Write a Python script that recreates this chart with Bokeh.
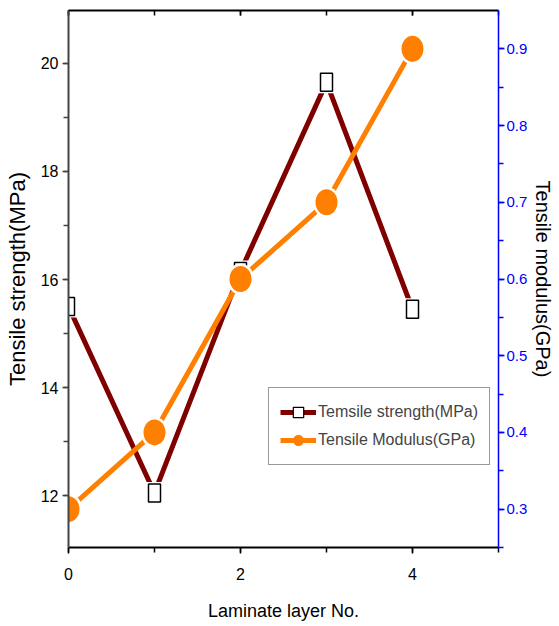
from bokeh.plotting import figure
from bokeh.models import (LinearAxis, Range1d, SingleIntervalTicker, Legend,
                          LegendItem, ColumnDataSource, CustomJSTickFormatter)
from bokeh.embed import file_html
from bokeh.resources import INLINE

# Laminate layer count vs. mechanical properties
layers = [0, 1, 2, 3, 4]
strength_mpa = [15.5, 12.05, 16.15, 19.65, 15.45]
modulus_gpa = [0.3, 0.4, 0.6, 0.7, 0.9]

x_label = "Laminate layer No."
left_label = "Tensile strength(MPa)"
right_label = "Tensile modulus(GPa)"
strength_legend = "Temsile strength(MPa)"
modulus_legend = "Tensile Modulus(GPa)"

MAROON = "#800000"
ORANGE = "#FF8000"
BLUE = "#0000FF"
FONT = "Liberation Sans"

p = figure(width=559, height=626, output_backend="svg", toolbar_location=None,
           x_range=Range1d(0, 5), y_range=Range1d(11.04, 20.98),
           min_border_left=68, min_border_right=61, min_border_top=10,
           min_border_bottom=79, x_axis_location=None, y_axis_location=None)
p.grid.visible = False
p.outline_line_color = None
p.background_fill_color = "white"
p.border_fill_color = "white"
p.extra_y_ranges = {"mod": Range1d(0.25, 0.95)}

def style(ax, color, lw=2):
    ax.axis_line_color = color
    ax.axis_line_width = lw
    ax.major_tick_line_color = color
    ax.minor_tick_line_color = color
    ax.major_tick_line_width = 1.5
    ax.minor_tick_line_width = 1.5
    ax.major_label_text_font = FONT
    ax.major_label_text_font_size = "16px"
    ax.axis_label_text_font = FONT
    ax.axis_label_text_font_size = "22px"
    ax.axis_label_text_font_style = "normal"
    ax.axis_label_text_color = "black"

# bottom axis
xb = LinearAxis(ticker=SingleIntervalTicker(interval=2, num_minor_ticks=2),
                axis_label=x_label)
style(xb, "black")
xb.major_tick_in = 0
xb.major_tick_out = 6
xb.minor_tick_in = 0
xb.minor_tick_out = 5
xb.major_label_standoff = 14
xb.axis_label_standoff = 18
xb.axis_label_text_font_size = "18px"
xb.major_label_text_color = "black"
p.add_layout(xb, "below")

# top frame line with inward ticks, no labels
xt = LinearAxis(ticker=SingleIntervalTicker(interval=2, num_minor_ticks=2),
                formatter=CustomJSTickFormatter(code="return ''"))
style(xt, "black")
xt.major_tick_in = 5
xt.major_tick_out = 0
xt.minor_tick_in = 5
xt.minor_tick_out = 0
xt.major_label_standoff = 0
p.add_layout(xt, "above")

# left axis: tensile strength
yl = LinearAxis(ticker=SingleIntervalTicker(interval=2, num_minor_ticks=2),
                axis_label=left_label)
style(yl, "#444444")
yl.major_tick_in = 0
yl.major_tick_out = 6
yl.minor_tick_in = 0
yl.minor_tick_out = 5
yl.major_label_standoff = 4
yl.axis_label_standoff = 8
yl.major_label_text_color = "black"
p.add_layout(yl, "left")

# right axis: tensile modulus
yr = LinearAxis(y_range_name="mod",
                ticker=SingleIntervalTicker(interval=0.1, num_minor_ticks=2),
                axis_label=right_label)
style(yr, BLUE, lw=1.5)
yr.major_tick_in = 0
yr.major_tick_out = 6
yr.minor_tick_in = 0
yr.minor_tick_out = 5
yr.major_label_standoff = 2
yr.axis_label_standoff = 2
yr.major_label_text_font_size = "15px"
yr.axis_label_text_font_size = "20px"
yr.major_label_text_color = BLUE
p.add_layout(yr, "right")

src_s = ColumnDataSource(dict(x=layers, y=strength_mpa))
src_m = ColumnDataSource(dict(x=layers, y=modulus_gpa))

# strength series: thick maroon line, open rectangular markers
l_s = p.line("x", "y", source=src_s, line_color=MAROON, line_width=5)
p.rect("x", "y", source=src_s, width=16, height=22, width_units="screen",
       height_units="screen", fill_color="white", line_color=None)
p.rect("x", "y", source=src_s, width=12, height=18, width_units="screen",
       height_units="screen", fill_color="white", line_color="black",
       line_width=1.5)

# modulus series: thick orange line, filled oval markers
l_m = p.line("x", "y", source=src_m, y_range_name="mod", line_color=ORANGE,
             line_width=5)
p.ellipse("x", "y", source=src_m, y_range_name="mod", width=27, height=31,
          width_units="screen", height_units="screen", fill_color="white",
          line_color=None)
p.ellipse("x", "y", source=src_m, y_range_name="mod", width=22, height=26,
          width_units="screen", height_units="screen", fill_color=ORANGE,
          line_color=None)

# legend swatches (not plotted in the data area)
nan = float("nan")
swatch = ColumnDataSource(dict(x=[nan], y=[nan]))
sw_s = p.scatter("x", "y", source=swatch, marker="square", size=11,
                 fill_color="white", line_color="black", line_width=1.2)
sw_m = p.scatter("x", "y", source=swatch, marker="circle", size=13,
                 fill_color=ORANGE, line_color=ORANGE)

legend = Legend(items=[LegendItem(label=strength_legend, renderers=[l_s, sw_s]),
                       LegendItem(label=modulus_legend, renderers=[l_m, sw_m])],
                location=(200, 82), orientation="vertical")
legend.label_text_font = FONT
legend.label_text_font_size = "16px"
legend.label_standoff = 2
legend.glyph_width = 36
legend.glyph_height = 26
legend.spacing = 2
legend.padding = 11
legend.margin = 0
legend.border_line_color = "#333333"
legend.border_line_width = 1
legend.background_fill_alpha = 1
p.add_layout(legend, "center")

open("out.html", "w").write(file_html(p, INLINE))
